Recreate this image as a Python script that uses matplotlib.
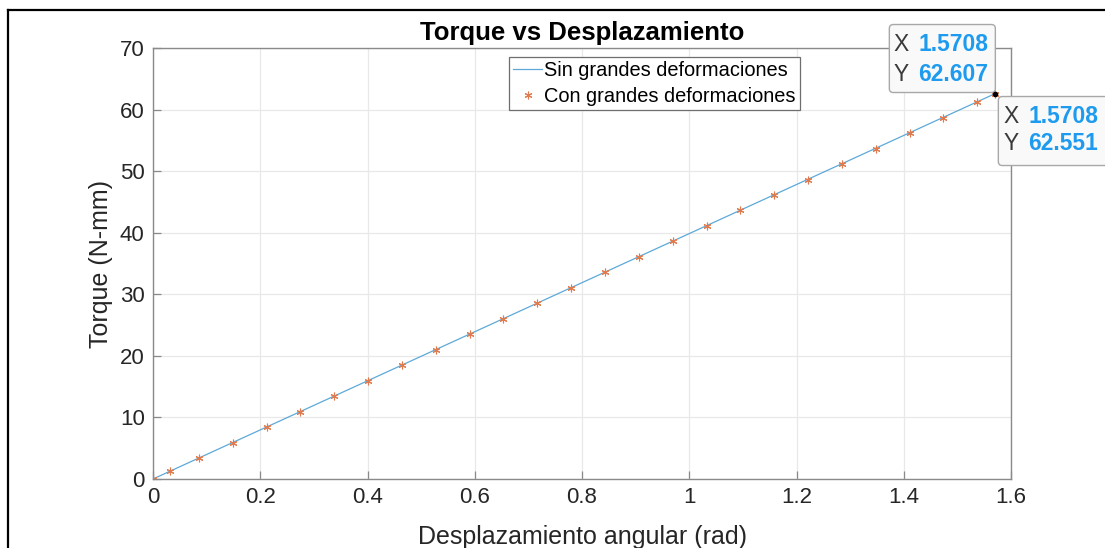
import numpy as np
import matplotlib
matplotlib.use("Agg")
import matplotlib.pyplot as plt
import matplotlib.transforms as mtransforms
from matplotlib.patches import FancyBboxPatch
from matplotlib.lines import Line2D

plt.rcParams['font.family'] = ['Liberation Sans', 'DejaVu Sans']

# linear solution (sin grandes deformaciones)
x_lin = [0.0, 1.5708]
y_lin = [0.0, 62.607]

# large deformation solution (con grandes deformaciones)
x_gd = [0.0, 0.0314, 0.0857, 0.1488, 0.2119, 0.2750, 0.3381, 0.4012, 0.4643,
        0.5274, 0.5905, 0.6536, 0.7167, 0.7798, 0.8429, 0.9060, 0.9691, 1.0322,
        1.0953, 1.1584, 1.2215, 1.2846, 1.3477, 1.4108, 1.4739, 1.5370, 1.5708]
y_gd = [0.0, 1.250, 3.413, 5.925, 8.438, 10.951, 13.463, 15.976, 18.488,
        21.001, 23.514, 26.026, 28.539, 31.052, 33.564, 36.077, 38.590, 41.102,
        43.615, 46.127, 48.640, 51.153, 53.665, 56.178, 58.691, 61.203, 62.551]

xticks = [0, 0.2, 0.4, 0.6, 0.8, 1, 1.2, 1.4, 1.6]
xticklabels = ["0", "0.2", "0.4", "0.6", "0.8", "1", "1.2", "1.4", "1.6"]
yticks = [0, 10, 20, 30, 40, 50, 60, 70]

W, H = 1105, 548
fig = plt.figure(figsize=(W / 100, H / 100), dpi=100)
ax = fig.add_axes([153 / W, 1 - 479 / H, (1011 - 153) / W, (479 - 48) / H])

ax.plot(x_lin, y_lin, color='#5DA9D8', lw=0.9, label='Sin grandes deformaciones')
ax.plot(x_gd, y_gd, linestyle='none', marker=(6, 2, 0), ms=5.5, mew=0.8,
        color='#E07B4F', label='Con grandes deformaciones')

ax.set_xlim(0, 1.6)
ax.set_ylim(0, 70)
ax.set_xticks(xticks)
ax.set_xticklabels(xticklabels)
ax.set_yticks(yticks)
ax.grid(True, color='#E8E8E8', lw=0.9)
ax.set_axisbelow(True)
for s in ax.spines.values():
    s.set_color('#8A8A8A')
    s.set_linewidth(1.0)
ax.tick_params(direction='in', length=6, width=0.9, color='#8A8A8A',
               labelsize=16, labelcolor='#262626', pad=6, top=False, right=False)

ax.set_title('Torque vs Desplazamiento', fontsize=18.5, fontweight='bold', pad=6)
ax.set_xlabel('Desplazamiento angular (rad)', fontsize=18, color='#262626', labelpad=12)
ax.set_ylabel('Torque (N-mm)', fontsize=18, color='#262626', labelpad=5)

leg = ax.legend(loc='upper left', bbox_to_anchor=(509 / W, 1 - 57 / H),
                bbox_transform=fig.transFigure, fontsize=14.4, frameon=True,
                fancybox=False, framealpha=1, edgecolor='#6E6E6E',
                borderpad=0.2, labelspacing=0.35, handlelength=1.45,
                handletextpad=0.1, borderaxespad=0)
leg.get_frame().set_linewidth(0.9)

# datatips
px, py = ax.transData.transform((x_lin[-1], y_lin[-1]))
ident = mtransforms.IdentityTransform()
box1 = FancyBboxPatch((px - 106, py + 1), 106, 68,
                      boxstyle='round,pad=0,rounding_size=4',
                      fc='#F9F9F9', ec='#A8A8A8', lw=1.0, transform=ident,
                      clip_on=False, zorder=5)
box2 = FancyBboxPatch((px + 3, py - 72), 112, 69,
                      boxstyle='round,pad=0,rounding_size=4',
                      fc='#F9F9F9', ec='#A8A8A8', lw=1.0, transform=ident,
                      clip_on=False, zorder=5)
ax.add_artist(box1)
ax.add_artist(box2)
ax.plot([x_lin[-1]], [y_lin[-1]], 'o', color='black', ms=3, zorder=6, clip_on=False)

tips = [((x_lin[-1], y_lin[-1]), -102, -77, 49, 19, x_lin[-1], y_lin[-1]),
        ((x_gd[-1], y_gd[-1]), 8, 33, -23, -50, x_gd[-1], y_gd[-1])]
for xy, dx_lab, dx_val, dy1, dy2, xv, yv in tips:
    for dy, lab, val in [(dy1, 'X', '%.4f' % xv), (dy2, 'Y', '%.3f' % yv)]:
        ax.annotate(lab, xy=xy, xytext=(dx_lab, dy), textcoords='offset pixels',
                    ha='left', va='center', fontsize=16.5, color='#3A3A3A',
                    annotation_clip=False, zorder=7)
        ax.annotate(val, xy=xy, xytext=(dx_val, dy), textcoords='offset pixels',
                    ha='left', va='center', fontsize=16.5, color='#1E9BEF',
                    fontweight='bold', annotation_clip=False, zorder=7)

# outer frame
fig.add_artist(Line2D([8 / W, 8 / W], [0, 1 - 10 / H], color='black', lw=1.6,
                      transform=fig.transFigure))
fig.add_artist(Line2D([8 / W, 1], [1 - 10 / H, 1 - 10 / H], color='black', lw=1.6,
                      transform=fig.transFigure))

fig.savefig('out.png', dpi=100)
